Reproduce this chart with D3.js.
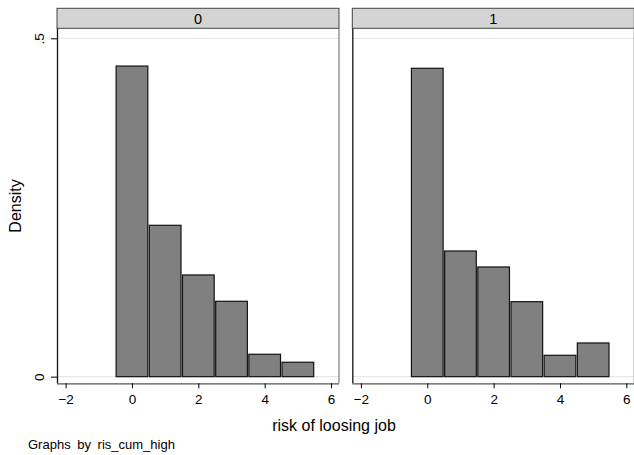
<!DOCTYPE html>
<html lang="en">
<head>
<meta charset="UTF-8">
<title>risk of loosing job</title>
<script src="https://d3js.org/d3.v7.min.js"></script>
<style>
  body { margin: 0; background: #fff; }
  text { font-family: "Liberation Sans", Arial, sans-serif; fill: #000; }
</style>
</head>
<body>
<div id="grafico"></div>
<script>
// dados
const painéis = ["0", "1"];
const centros = [0, 1, 2, 3, 4, 5];            // centro de cada classe, largura 1
const densidade0 = [0.459, 0.2237, 0.1503, 0.1114, 0.0331, 0.0213];
const densidade1 = [0.4557, 0.1857, 0.1621, 0.1108, 0.0316, 0.0498];
const ticksX = [-2, 0, 2, 4, 6];
const ticksY = [0, 0.5];
const rotulosY = ["0", ".5"];

const dados = [densidade0, densidade1];

const width = 634, height = 455;
const svg = d3.select("#grafico").append("svg")
  .attr("width", width).attr("height", height);

// área de cada painel
const topo = 28.5, base = 383.3;
const esquerdas = [57, 352.3];
const larguraPainel = 282;

const y = d3.scaleLinear().domain([-0.0098, 0.5145]).range([base, topo]);

painéis.forEach((nome, p) => {
  const x0 = esquerdas[p], x1 = x0 + larguraPainel;
  const x = d3.scaleLinear().domain([-2.26, 6.24]).range([x0, x1]);
  const g = svg.append("g");

  // faixa do título do painel
  g.append("rect")
    .attr("x", x0).attr("y", 8.3)
    .attr("width", larguraPainel).attr("height", 20)
    .attr("fill", "#d4d4d4").attr("stroke", "#444").attr("stroke-width", 1);
  g.append("text")
    .attr("x", (x0 + x1) / 2).attr("y", 23.5)
    .attr("text-anchor", "middle").attr("font-size", 14.5)
    .text(nome);

  // linhas de grade
  g.selectAll(".grade").data(ticksY).enter().append("line")
    .attr("x1", x0).attr("x2", x1)
    .attr("y1", d => y(d)).attr("y2", d => y(d))
    .attr("stroke", "#e2e2e2").attr("stroke-width", 1);

  // barras
  g.selectAll(".barra").data(dados[p]).enter().append("rect")
    .attr("x", (d, i) => x(centros[i] - 0.5) + 0.75)
    .attr("y", d => y(d))
    .attr("width", (d, i) => x(centros[i] + 0.5) - x(centros[i] - 0.5) - 1.5)
    .attr("height", d => y(0) - y(d))
    .attr("fill", "#808080").attr("stroke", "#111").attr("stroke-width", 1.2);

  // borda direita
  g.append("line")
    .attr("x1", x1).attr("x2", x1).attr("y1", topo).attr("y2", base)
    .attr("stroke", "#888").attr("stroke-width", 1.3);

  // eixo x
  const eixoX = g.append("g")
    .attr("transform", `translate(0,${base})`)
    .call(d3.axisBottom(x).tickValues(ticksX).tickSize(5).tickPadding(6).tickFormat(d3.format("d")));
  eixoX.select(".domain").attr("stroke", "#555").attr("stroke-width", 1.3)
    .attr("d", `M${x0},0.5H${x1}`);
  eixoX.selectAll("text").attr("font-size", 13.5)
    .attr("font-family", "Liberation Sans, Arial, sans-serif");

  // eixo y
  const eixoY = g.append("g")
    .attr("transform", `translate(${x0},0)`)
    .call(d3.axisLeft(y).tickValues(p === 0 ? ticksY : []).tickSize(p === 0 ? 6 : 0)
      .tickFormat((d, i) => rotulosY[i]));
  eixoY.select(".domain").attr("stroke", "#111").attr("stroke-width", 1.3)
    .attr("d", `M0.5,${topo}V${base}`);
  eixoY.selectAll("text")
    .attr("font-size", 13.5)
    .attr("font-family", "Liberation Sans, Arial, sans-serif")
    .attr("text-anchor", "middle")
    .attr("x", 0).attr("dy", 0)
    .attr("transform", "translate(-13,0) rotate(-90)");
});

// títulos
svg.append("text")
  .attr("transform", "translate(21,206) rotate(-90)")
  .attr("text-anchor", "middle").attr("font-size", 16)
  .text("Density");

svg.append("text")
  .attr("x", 334).attr("y", 431)
  .attr("text-anchor", "middle").attr("font-size", 16)
  .text("risk of loosing job");

svg.append("text")
  .attr("x", 28).attr("y", 449)
  .attr("font-size", 13).attr("word-spacing", 3)
  .text("Graphs by ris_cum_high");
</script>
</body>
</html>
